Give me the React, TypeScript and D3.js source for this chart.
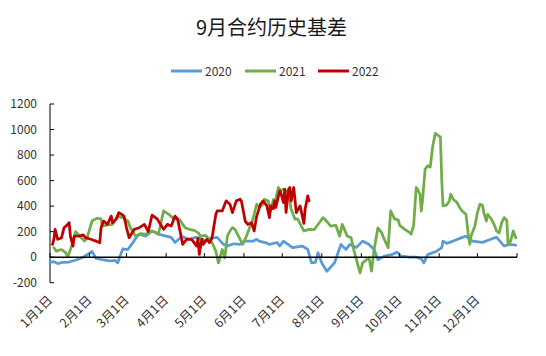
import React from "react";
import * as d3 from "d3";

const title = "9月合约历史基差";
const seriesNames = ["2020", "2021", "2022"];
const seriesColors = ["#5B9BD5", "#70AD47", "#C00000"];
const yTicks = [-200, 0, 200, 400, 600, 800, 1000, 1200];

// [MM-DD, value]
const s2020: [string, number][] = [
  ["01-01", -40], ["01-04", -35], ["01-07", -50], ["01-11", -40], ["01-16", -38], ["01-22", -20],
  ["01-27", 0], ["01-31", 25], ["02-03", 45], ["02-06", -10], ["02-11", -20], ["02-17", -30],
  ["02-21", -25], ["02-23", -45], ["02-27", 65], ["03-02", 60], ["03-05", 100], ["03-09", 160],
  ["03-11", 180], ["03-16", 165], ["03-21", 205], ["03-26", 180], ["04-01", 165], ["04-05", 155],
  ["04-08", 115], ["04-12", 150], ["04-14", 160], ["04-19", 140], ["04-24", 155], ["04-30", 140],
  ["05-02", 125], ["05-06", 150], ["05-11", 155], ["05-16", 100], ["05-19", 87], ["05-24", 105],
  ["05-29", 100], ["06-02", 126], ["06-08", 125], ["06-11", 140], ["06-13", 126], ["06-19", 110],
  ["06-21", 100], ["06-27", 115], ["06-29", 87], ["07-02", 126], ["07-09", 75], ["07-17", 87],
  ["07-21", 60], ["07-24", -45], ["07-27", -40], ["07-29", 35], ["08-01", -45], ["08-05", -110],
  ["08-11", -45], ["08-16", 100], ["08-20", 60], ["08-23", 100], ["08-28", 75], ["09-02", 126],
  ["09-07", 100], ["09-11", 60], ["09-14", -20], ["09-19", 8], ["09-25", 20], ["09-29", 40],
  ["10-02", 8], ["10-09", 0], ["10-14", 0], ["10-18", -13], ["10-20", -45], ["10-23", 20],
  ["10-30", 47], ["11-03", 74], ["11-04", 126], ["11-07", 108], ["11-12", 126], ["11-17", 147],
  ["11-22", 165], ["11-27", 126], ["12-05", 116], ["12-13", 147], ["12-16", 155], ["12-22", 87],
  ["12-26", 100], ["12-31", 95],
];

const s2021: [string, number][] = [
  ["01-04", 74], ["01-06", 47], ["01-10", 60], ["01-13", 37], ["01-15", 5], ["01-18", 87],
  ["01-21", 200], ["01-24", 170], ["01-28", 126], ["01-30", 150], ["02-03", 285], ["02-07", 305],
  ["02-10", 300], ["02-11", 244], ["02-14", 250], ["02-19", 257], ["02-23", 320], ["02-27", 310],
  ["02-29", 297], ["03-02", 283], ["03-04", 231], ["03-06", 200], ["03-08", 165], ["03-12", 185],
  ["03-16", 179], ["03-20", 205], ["03-24", 195], ["03-26", 180], ["03-30", 362], ["04-03", 336],
  ["04-06", 310], ["04-08", 300], ["04-12", 290], ["04-14", 257], ["04-16", 231], ["04-19", 218],
  ["04-23", 210], ["04-26", 192], ["04-28", 165], ["05-02", 170], ["05-07", 113], ["05-10", 47],
  ["05-12", -45], ["05-15", 60], ["05-17", -5], ["05-19", 165], ["05-21", 205], ["05-23", 231],
  ["05-25", 218], ["05-29", 140], ["05-31", 100], ["06-03", 165], ["06-05", 218], ["06-08", 297],
  ["06-11", 415], ["06-13", 389], ["06-16", 415], ["06-17", 454], ["06-20", 440], ["06-22", 360],
  ["06-24", 450], ["06-25", 420], ["06-28", 546], ["06-30", 520], ["07-02", 533], ["07-04", 520],
  ["07-06", 500], ["07-08", 375], ["07-11", 297], ["07-13", 300], ["07-16", 244], ["07-18", 205],
  ["07-22", 218], ["07-26", 215], ["07-30", 270], ["08-02", 310], ["08-04", 290], ["08-08", 244],
  ["08-12", 250], ["08-15", 165], ["08-17", 257], ["08-21", 165], ["08-24", 152], ["08-26", 60],
  ["08-29", -50], ["08-31", -123], ["09-02", -45], ["09-05", -20], ["09-07", -5], ["09-09", -110],
  ["09-11", 60], ["09-14", 230], ["09-17", 190], ["09-19", 140], ["09-22", 74], ["09-24", 362],
  ["09-27", 300], ["09-30", 290], ["10-01", 250], ["10-05", 218], ["10-09", 192], ["10-10", 180],
  ["10-12", 250], ["10-14", 546], ["10-15", 533], ["10-17", 493], ["10-18", 360], ["10-19", 450],
  ["10-21", 690], ["10-23", 716], ["10-25", 705], ["10-27", 873], ["10-29", 970], ["10-31", 955],
  ["11-02", 940], ["11-03", 611], ["11-04", 401], ["11-07", 410], ["11-09", 441], ["11-10", 493],
  ["11-12", 454], ["11-15", 428], ["11-17", 389], ["11-19", 362], ["11-22", 336], ["11-24", 165],
  ["11-25", 100], ["11-26", 165], ["11-29", 244], ["12-01", 349], ["12-03", 415], ["12-05", 405],
  ["12-06", 349], ["12-08", 283], ["12-09", 336], ["12-12", 297], ["12-14", 257], ["12-16", 205],
  ["12-18", 190], ["12-20", 270], ["12-22", 310], ["12-24", 290], ["12-25", 100], ["12-27", 126],
  ["12-29", 205], ["12-31", 152],
];

const s2022: [string, number][] = [
  ["01-03", 100], ["01-04", 140], ["01-05", 218], ["01-07", 140], ["01-10", 150], ["01-12", 231],
  ["01-15", 257], ["01-16", 270], ["01-17", 165], ["01-19", 87], ["01-20", 165], ["01-24", 165],
  ["01-27", 175], ["01-29", 152], ["02-02", 140], ["02-06", 126], ["02-09", 113], ["02-10", 231],
  ["02-12", 283], ["02-15", 257], ["02-18", 322], ["02-19", 270], ["02-20", 280], ["02-22", 300],
  ["02-24", 349], ["02-27", 330], ["02-28", 320], ["03-01", 230], ["03-03", 152], ["03-07", 218],
  ["03-11", 231], ["03-15", 257], ["03-18", 200], ["03-21", 330], ["03-25", 300], ["03-28", 250],
  ["03-30", 218], ["04-02", 257], ["04-05", 244], ["04-08", 322], ["04-10", 300], ["04-12", 200],
  ["04-14", 100], ["04-17", 140], ["04-21", 140], ["04-25", 87], ["04-26", 150], ["04-27", 21],
  ["04-29", 140], ["04-30", 100], ["05-03", 140], ["05-05", 113], ["05-07", 152], ["05-10", 336],
  ["05-11", 362], ["05-15", 362], ["05-17", 415], ["05-18", 441], ["05-21", 415], ["05-23", 349],
  ["05-26", 441], ["05-29", 454], ["05-30", 440], ["06-02", 283], ["06-04", 257], ["06-07", 270],
  ["06-09", 205], ["06-11", 322], ["06-14", 415], ["06-16", 441], ["06-19", 402], ["06-21", 310],
  ["06-22", 402], ["06-24", 380], ["06-25", 441], ["06-26", 389], ["06-29", 520], ["06-30", 500],
  ["07-02", 428], ["07-03", 533], ["07-04", 350], ["07-06", 533], ["07-07", 546], ["07-08", 441],
  ["07-10", 546], ["07-11", 450], ["07-12", 349], ["07-15", 402], ["07-18", 265], ["07-19", 380],
  ["07-21", 480], ["07-22", 441],
];

const allSeries = [s2020, s2021, s2022];

const W = 546;
const H = 356;
const X0 = 50;
const X1 = 517;
const Y_TOP = 104;
const Y_BOT = 282.7;
const BASE_YEAR = 2020;

const parse = (md: string) => {
  const [m, d] = md.split("-").map(Number);
  return new Date(BASE_YEAR, m - 1, d);
};

export default function App() {
  const x = d3
    .scaleTime()
    .domain([new Date(BASE_YEAR, 0, 1), new Date(BASE_YEAR + 1, 0, 1)])
    .range([X0, X1]);
  const y = d3.scaleLinear().domain([-200, 1200]).range([Y_BOT, Y_TOP]);

  const line = d3
    .line<[string, number]>()
    .x((d) => x(parse(d[0])))
    .y((d) => y(d[1]));

  const monthTicks = d3.timeMonth.range(
    new Date(BASE_YEAR, 0, 1),
    new Date(BASE_YEAR + 1, 0, 2)
  );
  const y0 = y(0);
  const font = "'Microsoft YaHei', 'Noto Sans CJK SC', 'Noto Sans', sans-serif";

  const legendX = [171, 245, 318];

  return (
    <svg
      width={W}
      height={H}
      style={{ position: "absolute", left: 0, top: 0, background: "#fff" }}
      fontFamily={font}
    >
      <rect width={W} height={H} fill="#fff" />
      <text x={271.5} y={35} textAnchor="middle" fontSize={20} fill="#1a1a1a">
        {title}
      </text>

      {seriesNames.map((n, i) => (
        <g key={n}>
          <line
            x1={legendX[i]}
            x2={legendX[i] + 31}
            y1={71}
            y2={71}
            stroke={seriesColors[i]}
            strokeWidth={3}
          />
          <text x={legendX[i] + 34} y={75.5} fontSize={12} fill="#333">
            {n}
          </text>
        </g>
      ))}

      {/* y axis */}
      <line x1={X0} x2={X0} y1={Y_TOP} y2={Y_BOT} stroke="#000" strokeWidth={1} />
      {yTicks.map((t) => (
        <g key={t}>
          <line x1={X0} x2={X0 + 4} y1={y(t)} y2={y(t)} stroke="#000" strokeWidth={1} />
          <text
            x={37}
            y={y(t)}
            dy="0.35em"
            textAnchor="end"
            fontSize={12}
            fill="#333"
          >
            {t}
          </text>
        </g>
      ))}

      {/* series */}
      {allSeries.map((s, i) => (
        <path
          key={i}
          d={line(s) || ""}
          fill="none"
          stroke={seriesColors[i]}
          strokeWidth={2.75}
          strokeLinejoin="round"
          strokeLinecap="round"
        />
      ))}

      {/* x axis at zero */}
      <line x1={X0} x2={X1} y1={y0} y2={y0} stroke="#000" strokeWidth={1.5} />
      {monthTicks.map((d, i) => (
        <line
          key={i}
          x1={x(d)}
          x2={x(d)}
          y1={y0}
          y2={y0 - 4}
          stroke="#000"
          strokeWidth={1}
        />
      ))}
      {monthTicks.slice(0, 12).map((d, i) => (
        <text
          key={i}
          transform={`translate(${x(d) + 3},${301}) rotate(-45)`}
          textAnchor="end"
          fontSize={12.5}
          fill="#333"
        >
          {`${d.getMonth() + 1}月1日`}
        </text>
      ))}
    </svg>
  );
}
